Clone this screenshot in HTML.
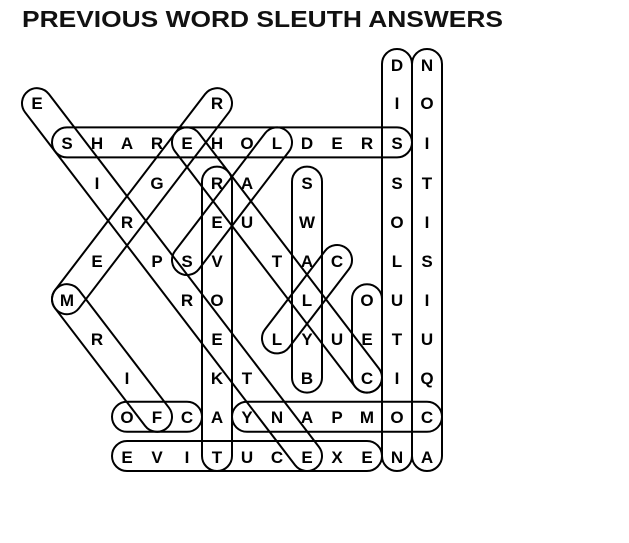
<!DOCTYPE html>
<html><head><meta charset="utf-8"><style>
html,body{margin:0;padding:0;background:#fff;width:629px;height:543px;overflow:hidden}
svg{display:block}
</style></head><body>
<svg id="s" width="629" height="543" xmlns="http://www.w3.org/2000/svg">
<text x="22" y="27" font-family="Liberation Sans, sans-serif" font-weight="bold" font-size="23" textLength="481" lengthAdjust="spacingAndGlyphs" fill="#111">PREVIOUS WORD SLEUTH ANSWERS</text>
<g id="caps" fill="none" stroke="#000" stroke-width="2"></g>
<g font-family="Liberation Sans, sans-serif" font-weight="bold" font-size="17" text-anchor="middle" fill="#000">
<text x="397" y="71">D</text><text x="427" y="71">N</text>
<text x="37" y="109">E</text><text x="217" y="109">R</text><text x="397" y="109">I</text><text x="427" y="109">O</text>
<text x="67" y="149">S</text><text x="97" y="149">H</text><text x="127" y="149">A</text><text x="157" y="149">R</text><text x="187" y="149">E</text><text x="217" y="149">H</text><text x="247" y="149">O</text><text x="277" y="149">L</text><text x="307" y="149">D</text><text x="337" y="149">E</text><text x="367" y="149">R</text><text x="397" y="149">S</text><text x="427" y="149">I</text>
<text x="97" y="189">I</text><text x="157" y="189">G</text><text x="217" y="189">R</text><text x="247" y="189">A</text><text x="307" y="189">S</text><text x="397" y="189">S</text><text x="427" y="189">T</text>
<text x="127" y="228">R</text><text x="217" y="228">E</text><text x="247" y="228">U</text><text x="307" y="228">W</text><text x="397" y="228">O</text><text x="427" y="228">I</text>
<text x="97" y="267">E</text><text x="157" y="267">P</text><text x="187" y="267">S</text><text x="217" y="267">V</text><text x="277" y="267">T</text><text x="307" y="267">A</text><text x="337" y="267">C</text><text x="397" y="267">L</text><text x="427" y="267">S</text>
<text x="67" y="306">M</text><text x="187" y="306">R</text><text x="217" y="306">O</text><text x="307" y="306">L</text><text x="367" y="306">O</text><text x="397" y="306">U</text><text x="427" y="306">I</text>
<text x="97" y="345">R</text><text x="217" y="345">E</text><text x="277" y="345">L</text><text x="307" y="345">Y</text><text x="337" y="345">U</text><text x="367" y="345">E</text><text x="397" y="345">T</text><text x="427" y="345">U</text>
<text x="127" y="384">I</text><text x="217" y="384">K</text><text x="247" y="384">T</text><text x="307" y="384">B</text><text x="367" y="384">C</text><text x="397" y="384">I</text><text x="427" y="384">Q</text>
<text x="127" y="423">O</text><text x="157" y="423">F</text><text x="187" y="423">C</text><text x="217" y="423">A</text><text x="247" y="423">Y</text><text x="277" y="423">N</text><text x="307" y="423">A</text><text x="337" y="423">P</text><text x="367" y="423">M</text><text x="397" y="423">O</text><text x="427" y="423">C</text>
<text x="127" y="463">E</text><text x="157" y="463">V</text><text x="187" y="463">I</text><text x="217" y="463">T</text><text x="247" y="463">U</text><text x="277" y="463">C</text><text x="307" y="463">E</text><text x="337" y="463">X</text><text x="367" y="463">E</text><text x="397" y="463">N</text><text x="427" y="463">A</text>
</g>
</svg>
<script>
var X=function(c){return 37+30*c},Y=function(r){return 65+39.2*r};
var w=[[1,2,12,2],[12,0,12,10],[13,0,13,10],[3,9,5,9],[3,10,11,10],[7,9,13,9],[6,3,6,10],[9,3,9,8],[11,6,11,8],[0,1,9,10],[6,1,1,6],[1,6,4,9],[8,2,5,5],[5,2,11,8],[10,5,8,7]];
var g=document.getElementById('caps'),ns='http://www.w3.org/2000/svg';
w.forEach(function(a){var x1=X(a[0]),y1=Y(a[1]),x2=X(a[2]),y2=Y(a[3]);
var dx=x2-x1,dy=y2-y1,L=Math.sqrt(dx*dx+dy*dy),ang=Math.atan2(dy,dx)*180/Math.PI,h=15;
var r=document.createElementNS(ns,'rect');
r.setAttribute('x',-h);r.setAttribute('y',-h);r.setAttribute('width',L+2*h);r.setAttribute('height',2*h);
r.setAttribute('rx',h);r.setAttribute('ry',h);
r.setAttribute('transform','translate('+x1+','+(y1-1)+') rotate('+ang+')');g.appendChild(r);});
</script>
</body></html>
